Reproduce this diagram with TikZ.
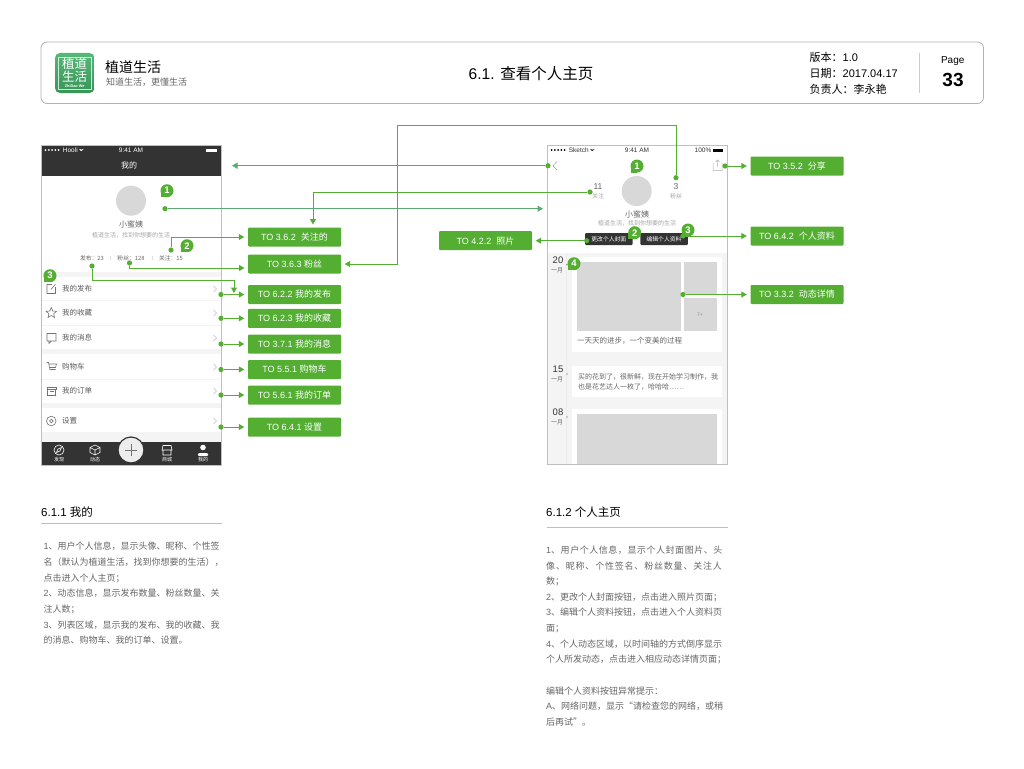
\documentclass[tikz,border=0pt]{standalone}
\usepackage{fontspec}
\setmainfont{Liberation Sans}
\newfontfamily\cjk{Noto Sans CJK SC}
\usetikzlibrary{arrows.meta,positioning,shapes.geometric}
\newcommand{\fsz}[1]{\fontsize{#1}{#1}\selectfont}
\definecolor{grn}{HTML}{53AE32}
\definecolor{grnb}{HTML}{5AAA74}
\definecolor{dark}{HTML}{333333}
\definecolor{txt}{HTML}{666666}
\definecolor{pale}{HTML}{F4F4F4}
\definecolor{ph}{HTML}{D8D8D8}
\definecolor{logotop}{HTML}{55B878}
\definecolor{logobot}{HTML}{379556}
\tikzset{
    %Define standard arrow tip
    >={Triangle[length=5.5pt,width=6pt]},
    %Define style for boxes
    tobox/.style={
           rectangle,
           rounded corners=1pt,
           fill=grn,
           text=white,
           minimum width=93pt,
           minimum height=19pt,
           inner sep=0pt,
           font=\fsz{9},
           text centered},
    numbadge/.style={
           circle,
           fill=grn,
           text=white,
           minimum size=13pt,
           inner sep=0pt,
           font=\bfseries\fsz{9.5}},
    dotn/.style={
           circle,
           fill=grn,
           minimum size=5.2pt,
           inner sep=0pt},
    label6/.style={font=\cjk\fsz{#1},inner sep=0pt,text=txt},
    rowtxt/.style={anchor=west,font=\cjk\fsz{7.5},inner sep=0pt,text=dark!80!white},
    tabtxt/.style={font=\cjk\fsz{5},inner sep=0pt,text=white},
    statustxt/.style={font=\fsz{6.5},inner sep=0pt},
    darkbtn/.style={
           rectangle,
           rounded corners=1pt,
           fill=dark,
           text=white,
           minimum width=47.5pt,
           minimum height=12pt,
           inner sep=0pt,
           font=\cjk\fsz{5.8}},
    bodytxt/.style={
           anchor=north west,
           align=left,
           inner sep=0pt,
           text=txt,
           font=\cjk\fontsize{9}{#1}\selectfont},
    headtxt/.style={anchor=west,inner sep=0pt,font=\fsz{11.5}},
    icon/.style={draw=black!55,line width=.6pt},
    tabicon/.style={draw=white,line width=.6pt},
    % Define arrow style
    link/.style={->,draw=grn,line width=1pt,shorten >=3.5pt},
    linkb/.style={->,draw=grnb,line width=1pt,shorten >=0pt}
}
\begin{document}
\begin{tikzpicture}[x=1pt,y=-1pt]
\useasboundingbox (0,0) rectangle (1024,768);
\fill[white] (0,0) rectangle (1024,768);

% header
\draw[black!30,line width=.8pt,rounded corners=6pt] (41,42) rectangle (983.5,103.5);
\shade[top color=logotop,bottom color=logobot,rounded corners=5pt] (55,53) rectangle (94.5,93);
\draw[white!70!logotop,line width=.4pt] (58.5,57) rectangle (91,89);
\node[inner sep=0pt,text=white,align=center,font=\cjk\fontsize{12.5}{13}\selectfont] (logotxt) at (74.7,70) {植道\\生活};
\node[inner sep=0pt,text=white,font=\bfseries\fsz{3.8}] (logoen) at (74.7,86) {ZhiDao We};
\node[anchor=west,inner sep=0pt,font=\cjk\fsz{14}] (appname) at (105,67) {植道生活};
\node[anchor=west,inner sep=0pt,text=txt,font=\cjk\fsz{9}] (appsub) at (106,82) {知道生活，更懂生活};
\node[inner sep=0pt,font=\fsz{15.5}] (pagetitle) at (531,74) {6.1. {\cjk 查看个人主页}};
\node[anchor=west,inner sep=0pt,font=\fsz{11}] (ver) at (809.5,57.5) {{\cjk 版本：}1.0};
\node[anchor=west,inner sep=0pt,font=\fsz{11}] (date) at (809.5,73) {{\cjk 日期：}2017.04.17};
\node[anchor=west,inner sep=0pt,font=\cjk\fsz{11}] (owner) at (809.5,89) {负责人：李永艳};
\draw[black!20,line width=.8pt] (919,53) -- (919,93);
\node[inner sep=0pt,font=\fsz{10}] (pagelbl) at (952.7,61) {Page};
\node[inner sep=0pt,font=\bfseries\fsz{19}] (pagenum) at (953,80) {33};

% left phone
\fill[dark] (41,145) rectangle (221,176);
\foreach \x in {0,1,...,4} \fill[white] (45.5+3.3*\x,150) circle (1);
\node[statustxt,anchor=west,text=white] (hooli) at (62.7,150) {Hooli};
\draw[white,line width=.5pt] (79,149) arc (135:45:3.2) (80.2,150.5) arc (135:45:1.5);
\node[statustxt,text=white] (timel) at (131,150) {9:41 AM};
\fill[white] (206,148.5) rectangle (217,151.5);
\node[inner sep=0pt,text=white,font=\cjk\fsz{8}] (titlel) at (129,165) {我的};
\fill[ph] (131,200.7) circle (15);
\node[label6=8] (namel) at (131,224.6) {小蜜姨};
\node[label6=6,text=black!35] (signl) at (131,235) {植道生活，找到你想要的生活};
\node[label6=5.8] (postl) at (92,258) {发布：23};
\node[label6=5.8] (fansl) at (131,258) {粉丝：128};
\node[label6=5.8] (followl) at (171,258) {关注：15};
\draw[black!12,line width=.5pt] (110,256) -- (110,260) (152,256) -- (152,260);
\fill[pale] (42,272) rectangle (220.5,277);
\fill[pale] (42,349) rectangle (220.5,354);
\fill[pale] (42,403) rectangle (220.5,408);
\fill[pale] (42,432) rectangle (220.5,442);
\draw[pale,line width=.8pt] (42,300.5) -- (220.5,300.5) (42,325.5) -- (220.5,325.5) (42,379) -- (220.5,379);
\foreach \y/\t/\n in {289/我的发布/a,313/我的收藏/b,338/我的消息/c,367/购物车/d,391/我的订单/e,421/设置/f}{
  \node[rowtxt] (row\n) at (62,\y) {\t};
  \draw[black!25,line width=.5pt] (213.5,\y-3) -- (216.5,\y) -- (213.5,\y+3);
}
% list icons
\draw[icon] (55.5,287) -- (55.5,293.5) -- (47,293.5) -- (47,284.5) -- (52,284.5) (51,289.5) -- (55.5,284);
\node[star,star points=5,star point ratio=2.2,draw=black!55,line width=.6pt,minimum size=11pt,inner sep=0pt] (staricon) at (51.3,313) {};
\draw[icon] (47,333.5) rectangle (56,341) (49,341) -- (49,343.5) -- (51.5,341);
\draw[icon] (46.5,362.5) -- (48.5,362.5) -- (50,369.5) -- (55.5,369.5) (48.5,364) -- (56.5,364) -- (55.5,367.5) -- (49.5,367.5);
\draw[icon] (47,387) rectangle (56,389) (47.5,389) rectangle (55.5,395.5) (49.5,391) -- (53.5,391);
\draw[icon] (51.3,421) circle (4.8) (51.3,421) circle (1.8);
% tab bar
\fill[dark] (41,442) rectangle (221,465);
\draw[dark,fill=black!7,line width=1.2pt] (131,450) circle (13);
\draw[black!55,line width=.7pt] (125,450) -- (137,450) (131,444) -- (131,456);
\draw[tabicon] (59,450) circle (5) (56.5,452.5) -- (60,451) -- (61.5,447.5) -- (58,449) -- cycle;
\draw[tabicon] (95,445) -- (100,447.5) -- (100,452.5) -- (95,455) -- (90,452.5) -- (90,447.5) -- cycle (90,447.5) -- (95,450) -- (100,447.5) (95,450) -- (95,455);
\draw[tabicon] (162,450) -- (163,445.5) -- (171,445.5) -- (172,450) -- cycle (163,450) -- (163,455) -- (171,455) -- (171,450);
\fill[white] (203,447.5) circle (2.8);
\fill[white,rounded corners=1pt] (198,456) -- (198,453) -- (208,453) -- (208,456) -- cycle;
\foreach \x/\t/\n in {59/发现/a,95/动态/b,167/商城/c,203/我的/d}
  \node[tabtxt] (tab\n) at (\x,459.5) {\t};
\draw[black!25,line width=.8pt] (41,145) rectangle (221,465);

% right phone
\fill[pale] (548,253) rectangle (727,464);
\draw[black!8,line width=.8pt] (566.5,253) -- (566.5,464);
\foreach \x in {0,1,...,4} \fill[black] (551.5+3.3*\x,150) circle (1);
\node[statustxt,anchor=west,text=dark] (sketch) at (568.7,150) {Sketch};
\draw[dark,line width=.5pt] (590,149) arc (135:45:3.2) (591.2,150.5) arc (135:45:1.5);
\node[statustxt,text=dark] (timer) at (637,150) {9:41 AM};
\node[statustxt,anchor=east,text=dark] (batt) at (711.5,150) {100\%};
\fill[black] (713,148.5) rectangle (723,151.5);
\draw[black!40,line width=.5pt] (557,161.5) -- (553,165.7) -- (557,170);
\draw[black!30,line width=.5pt] (713,163) -- (713,170.5) -- (722,170.5) -- (722,163) (717.5,167) -- (717.5,160) (715.5,162) -- (717.5,160) -- (719.5,162);
\fill[ph] (636.7,191) circle (15);
\node[label6=8.5] (num11) at (598,187) {\rmfamily 11};
\node[label6=6,text=black!35] (lab11) at (598,196) {关注};
\node[label6=8.5] (num3) at (676,187) {\rmfamily 3};
\node[label6=6,text=black!35] (lab3) at (676,196) {粉丝};
\node[label6=8] (namer) at (637,214) {小蜜姨};
\node[label6=6,text=black!35] (signr) at (637,223.5) {植道生活，找到你想要的生活};
\node[darkbtn] (btncover) at (608.8,239) {更改个人封面};
\node[darkbtn] (btnedit) at (664,239) {编辑个人资料};
\fill[white] (572,257) rectangle (722,352);
\fill[white] (572,366) rectangle (722,397);
\fill[white] (572,409) rectangle (722,464);
\fill[ph] (577,262) rectangle (681,331);
\fill[ph] (683.7,262) rectangle (717,294.3);
\fill[ph] (683.7,298) rectangle (717,331);
\fill[ph] (577,413.7) rectangle (717,464);
\node[label6=5,text=black!45] (more) at (700,315) {\rmfamily 7+};
\node[label6=7.5,anchor=west] (card1) at (577,341) {一天天的进步，一个变美的过程};
\node[label6=7,anchor=west] (card2a) at (578,377) {买的花到了，很新鲜，现在开始学习制作，我};
\node[label6=7,anchor=west] (card2b) at (578,387) {也是花艺达人一枚了，哈哈哈……};
\foreach \y/\t/\n in {260/20/a,369/15/b,412/08/c}{
  \node[label6=9.5,text=dark] (day\n) at (558,\y) {\rmfamily \t};
  \node[label6=6] (mon\n) at (557,\y+10.5) {一月};
}
\fill[black!70] (567,264.5) circle (.6) (567,374) circle (.6) (567,417) circle (.6);
\draw[black!25,line width=.8pt] (547,145) rectangle (727.5,464.5);

% target boxes
\node[tobox] (to362) at (294.5,237) {TO 3.6.2\ \ {\cjk 关注的}};
\node[tobox] (to363) at (294.5,264) {TO 3.6.3 {\cjk 粉丝}};
\node[tobox] (to622) at (294.5,294.5) {TO 6.2.2 {\cjk 我的发布}};
\node[tobox] (to623) at (294.5,318.3) {TO 6.2.3 {\cjk 我的收藏}};
\node[tobox] (to371) at (294.5,344) {TO 3.7.1 {\cjk 我的消息}};
\node[tobox] (to551) at (294.5,369.5) {TO 5.5.1 {\cjk 购物车}};
\node[tobox] (to561) at (294.5,395) {TO 5.6.1 {\cjk 我的订单}};
\node[tobox] (to641) at (294.5,427) {TO 6.4.1 {\cjk 设置}};
\node[tobox] (to422) at (485.5,240.7) {TO 4.2.2\ \ {\cjk 照片}};
\node[tobox] (to352) at (797,166) {TO 3.5.2\ \ {\cjk 分享}};
\node[tobox] (to642) at (797,236) {TO 6.4.2\ \ {\cjk 个人资料}};
\node[tobox] (to332) at (797,294.5) {TO 3.3.2\ \ {\cjk 动态详情}};

% dots and free ends
\foreach \n/\x/\y in {info/165/208.7,fol/171/250,fan/129.5/263,pub/92/266,
    d622/221/294.5,d623/221/318.3,d371/221/344,d551/221/369.5,d561/221/395,d641/221/427,
    back/548/165.7,rfol/590/192,rfan/676/177.7,share/725/166,cover/586.7/240.7,edit/683/236,feed/683/294.5}
  \node[dotn] (\n) at (\x,\y) {};
\coordinate (leftend) at (232,165.7);
\coordinate (rightend) at (543,208.7);
\coordinate (c362) at (313,228);
\coordinate (c363) at (248,268);
\coordinate (topbend) at (397,125);
\coordinate (pubbend) at (234,280);
\coordinate (c622) at (234,296.5);

% links
\draw[linkb] (back) -- (leftend);
\draw[linkb] (info) -- (rightend);
\draw[link] (rfol) -| (c362);
\draw[link] (rfan) |- (topbend) |- (to363);
\draw[link] (fol) |- (to362);
\draw[link] (fan) |- (c363);
\draw[link] (pub) |- (pubbend) -- (c622);
\foreach \a/\b in {d622/to622,d623/to623,d371/to371,d551/to551,d561/to561,d641/to641,
    share/to352,cover/to422,edit/to642,feed/to332}
  \draw[link] (\a) -- (\b);

% number badges
\foreach \n/\x/\y/\t in {ba/167/190.7/1,bb/187/245.7/2,bc/50/275.7/3,bd/637/166/1,be/634.7/232.7/2,bf/688/230/3,bg/574/263.7/4}{
  \fill[grn] (\x-6.5,\y) rectangle (\x,\y+6.5);
  \node[numbadge] (\n) at (\x,\y) {\t};
}

% notes
\node[headtxt] (headl) at (41,512) {6.1.1 {\cjk 我的}};
\draw[black!25,line width=.8pt] (41,523.3) -- (222,523.3);
\node[headtxt] (headr) at (546,512) {6.1.2 {\cjk 个人主页}};
\draw[black!25,line width=.8pt] (547,527.3) -- (727.5,527.3);
\node[bodytxt=15.65] (bodyl) at (43.5,542) {
{\rmfamily 1}、用户个人信息，显示头像、昵称、个性签\\
名（默认为植道生活，找到你想要的生活），\\
点击进入个人主页；\\
{\rmfamily 2}、动态信息，显示发布数量、粉丝数量、关\\
注人数；\\
{\rmfamily 3}、列表区域，显示我的发布、我的收藏、我\\
的消息、购物车、我的订单、设置。};
\node[bodytxt=15.65] (bodyr) at (546,545.5) {
{\rmfamily 1}{\addfontfeature{LetterSpace=6}、用户个人信息，显示个人封面图片、头}\\
{\addfontfeature{LetterSpace=9}像、昵称、个性签名、粉丝数量、关注人}\\
数；\\
{\rmfamily 2}、更改个人封面按钮，点击进入照片页面；\\
{\rmfamily 3}、编辑个人资料按钮，点击进入个人资料页\\
面；\\
{\rmfamily 4}、个人动态区域，以时间轴的方式倒序显示\\
个人所发动态，点击进入相应动态详情页面；\\[15.65pt]
编辑个人资料按钮异常提示：\\
{\rmfamily A}、网络问题，显示“请检查您的网络，或稍\\
后再试”。};
\end{tikzpicture}
\end{document}
